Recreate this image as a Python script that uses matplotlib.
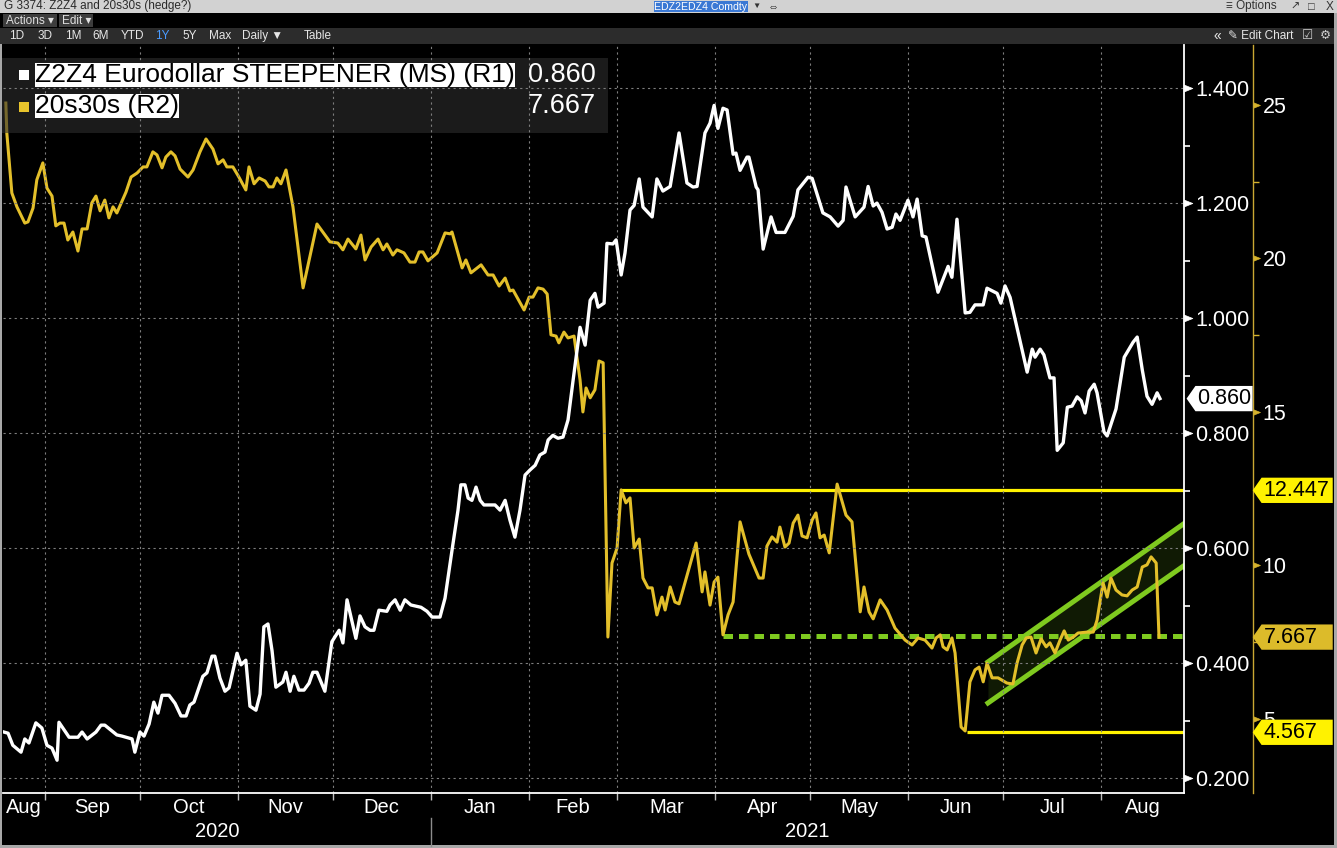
import pandas as pd
import matplotlib
matplotlib.use("Agg")
import matplotlib.pyplot as plt
import matplotlib.dates as mdates
import matplotlib.transforms as mtransforms
from matplotlib.patches import Rectangle
from matplotlib.path import Path
from matplotlib.ticker import NullFormatter

plt.rcParams["font.family"] = ["Liberation Sans", "DejaVu Sans"]

# -----------------------------
# data (days counted from the first date on the chart)
# -----------------------------
start = pd.Timestamp("2020-08-19")

# Z2Z4 Eurodollar STEEPENER (MS), right axis R1
r1_day = [
    0.0, 1.3, 2.8, 5.4, 6.6, 7.9, 10.1, 12.0, 13.6, 15.2,
    16.8, 17.4, 20.6, 23.4, 24.7, 26.3, 29.1, 30.7, 31.9, 35.7,
    37.3, 39.2, 40.5, 41.4, 43.0, 44.3, 45.9, 47.4, 48.7, 50.0,
    52.2, 54.1, 56.0, 57.6, 58.8, 60.1, 62.9, 64.2, 65.8, 66.7,
    68.3, 69.9, 71.2, 73.7, 75.0, 76.5, 77.8, 79.7, 81.0, 82.2,
    83.5, 84.8, 86.0, 88.2, 89.2, 90.5, 91.7, 93.3, 94.9, 96.5,
    97.7, 99.0, 101.5, 103.7, 106.0, 107.2, 108.5, 111.3, 112.6, 114.2,
    115.8, 117.0, 118.6, 121.1, 122.1, 123.7, 125.3, 126.8, 128.7, 131.9,
    133.8, 135.4, 137.9, 139.5, 141.7, 143.6, 144.5, 145.8, 146.8, 148.0,
    149.3, 150.6, 151.8, 155.3, 156.9, 158.5, 160.0, 161.6, 163.2, 164.8,
    166.4, 168.0, 169.5, 171.1, 172.1, 173.6, 175.2, 176.8, 178.4, 180.0,
    182.2, 183.8, 185.4, 186.9, 187.9, 189.8, 190.7, 192.6, 193.6, 195.2,
    196.4, 198.0, 199.3, 200.9, 202.1, 205.0, 206.5, 208.4, 210.7, 213.5,
    216.0, 217.9, 219.2, 221.7, 223.3, 224.6, 225.8, 227.4, 228.7, 230.6,
    231.5, 232.8, 235.0, 235.6, 237.9, 238.5, 240.1, 242.6, 244.2, 247.0,
    249.6, 251.1, 254.3, 255.6, 259.0, 261.3, 263.8, 265.4, 266.3, 269.2,
    272.0, 273.3, 274.9, 276.1, 277.7, 279.3, 280.9, 282.1, 283.4, 285.9,
    287.5, 288.8, 290.4, 291.6, 295.4, 298.6, 299.8, 301.4, 304.0, 305.5,
    307.1, 309.7, 310.9, 314.1, 315.3, 316.6, 318.2, 323.6, 325.2, 326.1,
    327.7, 328.9, 330.8, 332.1, 333.1, 335.0, 336.3, 337.8, 339.4, 340.7,
    341.9, 343.2, 344.8, 345.7, 347.9, 348.9, 351.7, 354.3, 357.1, 358.4,
    360.0, 361.5, 363.1, 364.7, 365.6,
]
r1_val = [
    0.280, 0.278, 0.257, 0.245, 0.268, 0.261, 0.296, 0.287, 0.257, 0.252,
    0.231, 0.297, 0.271, 0.271, 0.280, 0.268, 0.280, 0.292, 0.292, 0.275,
    0.273, 0.270, 0.268, 0.245, 0.280, 0.273, 0.294, 0.332, 0.313, 0.344,
    0.344, 0.330, 0.308, 0.308, 0.327, 0.332, 0.377, 0.383, 0.412, 0.412,
    0.374, 0.351, 0.357, 0.417, 0.397, 0.405, 0.325, 0.318, 0.346, 0.463,
    0.468, 0.421, 0.358, 0.367, 0.384, 0.351, 0.377, 0.353, 0.353, 0.365,
    0.384, 0.384, 0.351, 0.437, 0.457, 0.435, 0.510, 0.443, 0.482, 0.463,
    0.457, 0.457, 0.492, 0.490, 0.501, 0.510, 0.492, 0.510, 0.501, 0.497,
    0.490, 0.480, 0.480, 0.513, 0.596, 0.666, 0.710, 0.710, 0.687, 0.683,
    0.706, 0.683, 0.675, 0.675, 0.666, 0.683, 0.649, 0.619, 0.666, 0.727,
    0.736, 0.744, 0.762, 0.767, 0.788, 0.796, 0.791, 0.793, 0.823, 0.892,
    0.984, 0.953, 1.031, 1.043, 1.019, 1.026, 1.130, 1.129, 1.136, 1.075,
    1.113, 1.188, 1.196, 1.242, 1.193, 1.176, 1.242, 1.221, 1.229, 1.322,
    1.235, 1.228, 1.229, 1.322, 1.339, 1.370, 1.330, 1.365, 1.362, 1.285,
    1.287, 1.257, 1.280, 1.280, 1.228, 1.223, 1.120, 1.176, 1.149, 1.149,
    1.177, 1.223, 1.245, 1.243, 1.183, 1.176, 1.160, 1.170, 1.228, 1.176,
    1.193, 1.229, 1.195, 1.200, 1.184, 1.155, 1.158, 1.181, 1.170, 1.205,
    1.176, 1.207, 1.143, 1.141, 1.045, 1.090, 1.071, 1.172, 1.009, 1.010,
    1.023, 1.023, 1.052, 1.043, 1.026, 1.056, 1.036, 0.906, 0.946, 0.932,
    0.946, 0.936, 0.896, 0.896, 0.770, 0.783, 0.845, 0.847, 0.863, 0.856,
    0.835, 0.873, 0.885, 0.870, 0.802, 0.795, 0.842, 0.932, 0.958, 0.967,
    0.910, 0.864, 0.850, 0.870, 0.860,
]

# 20s30s, right axis R2
r2_day = [
    0.6, 0.9, 2.5, 4.1, 6.6, 7.6, 9.2, 10.4, 12.3, 13.6,
    15.2, 16.4, 17.7, 19.0, 20.2, 21.8, 23.4, 24.7, 26.3, 27.8,
    29.1, 30.4, 31.9, 33.2, 34.5, 35.7, 38.6, 40.2, 42.1, 44.0,
    45.2, 47.1, 48.4, 50.0, 51.2, 52.8, 54.1, 55.7, 58.2, 59.8,
    62.0, 63.9, 66.1, 67.7, 69.3, 70.5, 72.4, 74.3, 76.5, 77.5,
    79.1, 80.7, 82.6, 83.8, 85.1, 86.3, 87.6, 89.2, 91.4, 94.6,
    99.0, 103.1, 105.6, 107.2, 108.8, 111.3, 112.9, 114.2, 116.1, 118.3,
    119.9, 121.1, 123.0, 124.3, 126.5, 128.4, 130.0, 131.3, 132.5, 134.1,
    137.0, 139.5, 141.1, 141.7, 144.9, 146.1, 147.7, 150.9, 153.1, 154.7,
    156.6, 158.5, 160.0, 161.0, 164.5, 166.1, 167.3, 168.9, 170.5, 171.8,
    173.0, 174.6, 175.5, 177.1, 178.4, 180.3, 182.2, 183.1, 184.1, 185.4,
    186.9, 188.2, 189.5, 191.0, 192.3, 193.9, 195.2, 196.7, 198.0, 199.3,
    200.9, 202.1, 203.7, 205.0, 206.5, 208.1, 209.1, 210.7, 212.2, 213.5,
    218.9, 220.8, 221.7, 223.3, 224.6, 225.8, 227.4, 229.0, 230.6, 232.8,
    235.6, 238.8, 240.1, 241.3, 242.9, 244.5, 245.4, 247.0, 248.3, 249.6,
    251.1, 252.4, 254.0, 255.6, 256.8, 258.1, 259.4, 261.0, 263.5, 266.3,
    268.2, 270.8, 272.0, 273.6, 274.9, 277.1, 279.3, 281.8, 285.0, 287.2,
    289.1, 291.3, 293.5, 294.8, 296.1, 297.0, 298.3, 299.8, 300.8, 302.7,
    304.0, 305.5, 307.1, 308.4, 309.7, 310.9, 312.5, 314.4, 317.2, 319.1,
    320.4, 322.0, 323.3, 324.8, 326.4, 328.0, 329.6, 330.8, 332.4, 334.0,
    335.3, 336.6, 338.2, 339.7, 342.6, 344.5, 345.7, 347.6, 348.9, 350.1,
    351.7, 353.6, 355.2, 356.8, 358.4, 360.0, 361.5, 362.8, 364.4, 365.3,
]
r2_val = [
    25.06, 24.09, 22.13, 21.68, 21.15, 21.19, 21.64, 22.56, 23.11, 22.29,
    22.03, 21.06, 21.15, 21.15, 20.60, 20.86, 20.24, 20.96, 20.96, 21.81,
    22.03, 21.55, 21.90, 21.32, 21.68, 21.48, 22.16, 22.65, 22.78, 22.98,
    22.98, 23.47, 23.37, 22.95, 23.30, 23.47, 23.34, 22.91, 22.65, 22.88,
    23.47, 23.89, 23.56, 23.08, 23.21, 22.98, 22.98, 22.65, 22.23, 22.98,
    22.43, 22.62, 22.52, 22.33, 22.33, 22.62, 22.43, 22.88, 21.68, 19.04,
    21.12, 20.54, 20.50, 20.28, 20.63, 20.31, 20.76, 19.95, 20.37, 20.63,
    20.28, 20.47, 20.11, 20.28, 20.18, 19.88, 19.88, 20.21, 20.21, 19.92,
    20.18, 20.83, 20.80, 20.86, 19.69, 19.95, 19.53, 19.79, 19.46, 19.46,
    19.10, 19.36, 18.94, 18.97, 18.32, 18.74, 18.74, 19.04, 19.00, 18.84,
    17.51, 17.47, 17.25, 17.60, 17.41, 17.47, 16.04, 15.00, 15.78, 15.46,
    15.72, 16.66, 16.60, 7.67, 10.08, 10.57, 12.46, 12.04, 12.20, 10.57,
    10.86, 9.59, 9.27, 9.27, 8.39, 8.97, 8.55, 9.30, 8.81, 8.75,
    10.73, 9.14, 9.79, 8.71, 9.46, 9.62, 7.74, 8.39, 8.81, 11.42,
    10.37, 9.59, 9.59, 10.63, 10.93, 10.76, 11.25, 10.60, 10.73, 11.38,
    11.64, 10.96, 10.90, 11.48, 11.71, 10.90, 10.99, 10.41, 12.65, 11.64,
    11.42, 8.49, 9.30, 8.49, 8.26, 8.88, 8.55, 7.96, 7.57, 7.41,
    7.64, 7.57, 7.31, 7.64, 7.74, 7.35, 7.25, 7.64, 7.15, 4.74,
    4.61, 6.21, 6.60, 6.69, 6.21, 6.82, 6.34, 6.34, 6.17, 6.14,
    6.82, 7.41, 7.64, 7.67, 7.15, 7.61, 7.35, 7.48, 7.15, 7.57,
    7.87, 7.57, 7.67, 7.80, 7.83, 7.83, 8.22, 9.43, 8.97, 9.59,
    9.20, 9.04, 9.01, 9.20, 9.30, 9.95, 10.02, 10.28, 10.08, 7.667,
]

r1_last = 0.860
r2_last = 7.667

# drawn levels and channel (on R2)
resist, resist_from = 12.447, 194.8
support, support_from = 4.567, 304.6
neck, neck_from = 7.70, 227.4
chan_day = [311.2, 373.0]
chan_upper = [6.86, 11.35]
chan_lower = [5.52, 9.98]

r1_ticks = [0.2, 0.4, 0.6, 0.8, 1.0, 1.2, 1.4]
r1_minor = [0.3, 0.5, 0.7, 0.9, 1.1, 1.3]
r2_ticks = [5, 10, 15, 20, 25]
r2_minor = [7.5, 12.5, 17.5, 22.5]

legend_names = ["Z2Z4 Eurodollar STEEPENER (MS) (R1)", "20s30s (R2)"]
buttons = ["1D", "3D", "1M", "6M", "YTD", "1Y", "5Y", "Max", "Daily \u25bc", "Table"]
button_x = [17, 45, 73, 101, 132, 162, 190, 220, 263, 318]

GOLD = "#e3bf2a"
YELLOW = "#fff200"
GREEN = "#7fca1f"

# -----------------------------
# figure
# -----------------------------
W, H = 1337, 848


def fx(x):
    return x / W


def fy(y):
    return 1 - y / H


fig = plt.figure(figsize=(W / 100, H / 100), dpi=100, facecolor="black")
ax = fig.add_axes([fx(3), fy(793), (1184 - 3) / W, (793 - 45) / H])
ax2 = ax.twinx()
ax.set_zorder(ax2.get_zorder() + 1)
ax.patch.set_visible(False)

r1_dates = start + pd.to_timedelta(r1_day, unit="D")
r2_dates = start + pd.to_timedelta(r2_day, unit="D")
x_left = start - pd.Timedelta(days=0.3)
x_right = start + pd.Timedelta(days=373.2)

ax2.plot(r2_dates, r2_val, color=GOLD, lw=2.2, zorder=4)
ax.plot(r1_dates, r1_val, color="white", lw=2.4, zorder=4)

# levels
ax2.hlines(resist, start + pd.Timedelta(days=resist_from), x_right, color=YELLOW, lw=2.3, zorder=3)
ax2.hlines(support, start + pd.Timedelta(days=support_from), x_right, color=YELLOW, lw=2.3, zorder=3)
ax2.hlines(neck, start + pd.Timedelta(days=neck_from), x_right, color=GREEN, lw=3.6,
           linestyles=(0, (1.9, 1.2)), zorder=3)
cd = start + pd.to_timedelta(chan_day, unit="D")
ax2.fill_between(cd, chan_lower, chan_upper, color=GREEN, alpha=0.13, lw=0, zorder=2)
ax2.plot(cd, chan_upper, color=GREEN, lw=3.6, zorder=3)
ax2.plot(cd, chan_lower, color=GREEN, lw=3.6, zorder=3)

ax.set_xlim(x_left, x_right)
ax.set_ylim(0.174, 1.475)
ax2.set_ylim(2.59, 26.95)

# spines
for s in ["top", "left"]:
    ax.spines[s].set_visible(False)
for s in ["right", "bottom"]:
    ax.spines[s].set_color("white")
    ax.spines[s].set_linewidth(1.3)
for s in ["top", "left", "bottom"]:
    ax2.spines[s].set_visible(False)
ax2.spines["right"].set_position(("outward", 69 * 0.72))
ax2.spines["right"].set_color("#c9a833")
ax2.spines["right"].set_linewidth(1.0)

# grid
ax.set_axisbelow(True)
ax.grid(True, which="major", color="#7d7d7d", linestyle=(0, (2, 3)), linewidth=0.8)

# x axis: month boundaries as ticks, names centred in each month
bounds = [x_left] + list(pd.date_range(x_left.ceil("D"), x_right, freq="MS")) + [x_right]
mids = [a + (b - a) / 2 for a, b in zip(bounds[:-1], bounds[1:])]
ax.set_xticks(mdates.date2num(bounds[1:-1]))
ax.xaxis.set_major_formatter(NullFormatter())
ax.set_xticks(mdates.date2num(mids), minor=True)
ax.set_xticklabels([m.strftime("%b") for m in mids], minor=True)
ax.tick_params(axis="x", which="major", length=5, width=1, color="#bdbdbd", direction="out")
ax.tick_params(axis="x", which="minor", length=0, pad=3.5, labelsize=14.5, labelcolor="white")

blendx = mtransforms.blended_transform_factory(ax.transData, ax.transAxes)
jan1 = pd.Timestamp("2021-01-01")
for a, b, lab in [(x_left, jan1, "2020"), (jan1, x_right, "2021")]:
    ax.text(mdates.date2num(a + (b - a) / 2), -0.052, lab, transform=blendx, ha="center",
            va="center", color="white", fontsize=14.5)
ax.plot([mdates.date2num(jan1)] * 2, [-0.033, -0.071], transform=blendx, color="#8c8c8c",
        lw=1, clip_on=False)

# y axes on the right
ax.yaxis.tick_right()
ax.set_yticks(r1_ticks)
ax.set_yticklabels([f"{t:.3f}" for t in r1_ticks])
ax.set_yticks(r1_minor, minor=True)
ax.tick_params(axis="y", which="major", direction="in", length=12, width=0.5, pad=8.2,
               color="white", labelcolor="white", labelsize=15.5)
ax.tick_params(axis="y", which="minor", direction="out", length=4, width=1.2, color="white")

ax2.set_yticks(r2_ticks)
ax2.set_yticklabels([str(t) for t in r2_ticks])
ax2.set_yticks(r2_minor, minor=True)
ax2.tick_params(axis="y", which="major", direction="in", length=10, width=0.5, pad=7.0,
                color="#d6b22c", labelcolor="white", labelsize=15.5)
ax2.tick_params(axis="y", which="minor", direction="out", length=4, width=1.0, color="#d6b22c")


# last value / level tags: arrow on the left, fixed width box
def tag_box(box_w):
    # coordinates are local to the text box, in pixels
    def style(x0, y0, width, height, mutation_size):
        pad = 0.1 * mutation_size
        xa, ya, yb = x0 - pad, y0 - pad, y0 + height + pad
        tip = xa - (yb - ya) * 0.35
        xb = x0 + box_w
        return Path([(tip, (ya + yb) / 2), (xa, ya), (xb, ya), (xb, yb), (xa, yb),
                     (tip, (ya + yb) / 2)], closed=True)
    return style


blend1 = mtransforms.blended_transform_factory(ax.transAxes, ax.transData)
blend2 = mtransforms.blended_transform_factory(ax2.transAxes, ax2.transData)
ax.text(1.0115, r1_last, f"{r1_last:.3f}", transform=blend1, ha="left", va="center",
        fontsize=15.5, color="black", clip_on=False, zorder=6,
        bbox=dict(boxstyle=tag_box(55), fc="white", ec="none"))
for val, face in [(resist, YELLOW), (r2_last, "#dcbb2a"), (support, YELLOW)]:
    ax2.text(1.0675, val, f"{val:.3f}", transform=blend2, ha="left", va="center",
             fontsize=15.5, color="black", clip_on=False, zorder=6,
             bbox=dict(boxstyle=tag_box(69), fc=face, ec="none"))


# -----------------------------
# legend block and terminal frame
# -----------------------------
def bar(x0, y0, x1, y1, color, **kw):
    fig.add_artist(Rectangle((fx(x0), fy(y1)), fx(x1) - fx(x0), fy(y0) - fy(y1),
                             transform=fig.transFigure, facecolor=color, edgecolor="none", **kw))


bar(0, 58, 608, 133, "#2e2e2e", alpha=0.6)
bar(19, 70, 29, 80, "white")
bar(19, 102, 29, 112, "#e8c42c")
for name, val, y in [(legend_names[0], r1_last, 75), (legend_names[1], r2_last, 106)]:
    fig.text(fx(35), fy(y), name, fontsize=19, color="black", va="center",
             bbox=dict(boxstyle="square,pad=0.0", fc="white", ec="none"))
    fig.text(fx(596), fy(y), f"{val:.3f}", fontsize=19.5, color="white", va="center", ha="right")

# title bar
bar(0, 0, W, 13, "#d2d2d2")
fig.text(fx(4), fy(6.5), "G 3374: Z2Z4 and 20s30s (hedge?)", fontsize=8.5, color="#2a2a2a", va="center")
bar(654, 1, 748, 12, "#3a78d4")
fig.text(fx(701), fy(6.5), "EDZ2EDZ4 Comdty", fontsize=7.6, color="white", va="center", ha="center")
fig.text(fx(752), fy(6.5), "\u25bc", fontsize=6, color="#333333", va="center")
fig.text(fx(768), fy(6.5), "\u21d4", fontsize=8, color="#333333", va="center")
fig.text(fx(1226), fy(6.5), "\u2261 Options", fontsize=8.5, color="#333333", va="center")
fig.text(fx(1290), fy(6.5), "\u2197", fontsize=8, color="#333333", va="center")
fig.text(fx(1308), fy(6.5), "\u25a1", fontsize=8, color="#333333", va="center")
fig.text(fx(1326), fy(6.5), "X", fontsize=8.5, color="#333333", va="center")

# actions row
bar(3, 14, 57, 27, "#3d3d3d")
fig.text(fx(6), fy(20.5), "Actions \u25be", fontsize=8.5, color="#e0e0e0", va="center")
bar(59, 14, 93, 27, "#3d3d3d")
fig.text(fx(62), fy(20.5), "Edit \u25be", fontsize=8.5, color="#e0e0e0", va="center")

# range buttons row
bar(0, 28, W, 44, "#2c2c2c")
for lab, x in zip(buttons, button_x):
    fig.text(fx(x), fy(36), lab, fontsize=8.5, color="#4a9bff" if lab == "1Y" else "#e6e6e6",
             va="center", ha="center")
fig.text(fx(1214), fy(36), "\u00ab", fontsize=10, color="#e6e6e6", va="center")
fig.text(fx(1228), fy(36), "\u270e Edit Chart", fontsize=8.5, color="#e6e6e6", va="center")
fig.text(fx(1302), fy(36), "\u2611", fontsize=9, color="#cccccc", va="center")
fig.text(fx(1320), fy(36), "\u2699", fontsize=9, color="#cccccc", va="center")

# window border
bar(0, 44, 2, H, "#a8a8a8")
bar(1334, 13, W, H, "#a8a8a8")
bar(0, 845, W, H, "#a8a8a8")

# triangle tick markers like the terminal uses
tri = Path([(0, -0.4), (1, 0), (0, 0.4), (0, -0.4)], closed=True)
for t in ax.yaxis.get_major_ticks() + ax2.yaxis.get_major_ticks():
    t.tick2line.set_marker(tri)

fig.savefig("out.png", dpi=100, facecolor="black")
